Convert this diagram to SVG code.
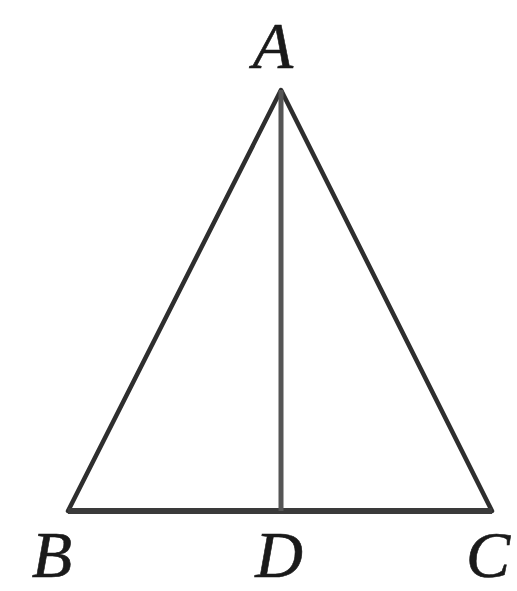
<svg xmlns="http://www.w3.org/2000/svg" width="517" height="591" viewBox="0 0 517 591">
<style>
.lbl{font-family:"Liberation Serif","Times New Roman",serif;font-style:italic;font-size:66px;fill:#1a1a1a;stroke:#1a1a1a;stroke-width:0.6}
.edge{stroke:#2e2e2e;stroke-width:4.5;fill:none;stroke-linejoin:round;stroke-linecap:round}
.base{stroke:#3a3a3a;stroke-width:6;fill:none}
.med{stroke:#555;stroke-width:5;fill:none}
</style>
<rect width="517" height="591" fill="#fff"/>
<g id="connectors">
<path class="edge" d="M68,511 L281,90 L492,511"/>
<line class="base" x1="68" y1="511" x2="492" y2="511"/>
<line class="med" x1="281" y1="90" x2="281" y2="511"/>
</g>
<g id="A"><text class="lbl" x="273" y="68" text-anchor="middle">A</text></g>
<g id="B"><text class="lbl" x="52" y="577" text-anchor="middle">B</text></g>
<g id="D"><text class="lbl" x="279" y="577" text-anchor="middle">D</text></g>
<g id="C"><text class="lbl" x="488" y="577" text-anchor="middle">C</text></g>
</svg>
